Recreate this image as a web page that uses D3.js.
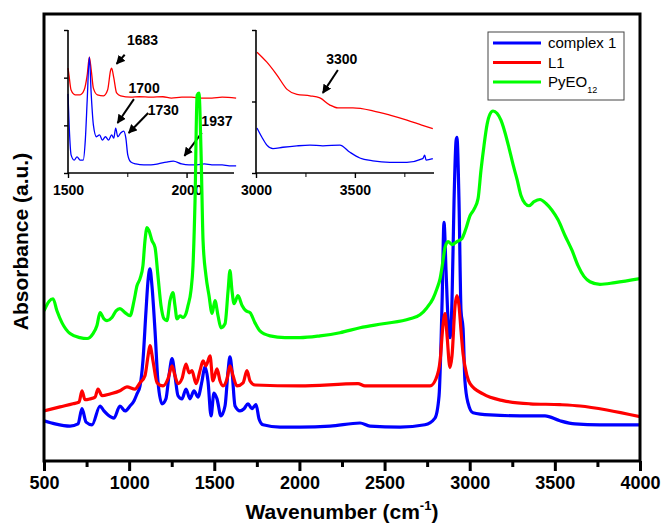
<!DOCTYPE html>
<html>
<head>
<meta charset="utf-8">
<script src="https://cdn.jsdelivr.net/npm/d3@7"></script>
<style>
  body { margin: 0; background: #fff; }
  svg { display: block; font-family: Arial, "Liberation Sans", sans-serif; }
</style>
</head>
<body>
<div id="chart"></div>
<script>
// FTIR spectra, wavenumber (cm-1) vs absorbance (a.u.)
const seriesNames = ["complex 1", "L1", "PyEO12"];
const seriesColors = ["#0000ff", "#ff0000", "#00ff00"];

const complex1 = [
  [500,0.090],[565,0.083],[653,0.078],[700,0.083],[723,0.117],[747,0.087],[782,0.081],
  [829,0.123],[852,0.112],[876,0.103],[911,0.096],[946,0.123],[976,0.112],[1005,0.123],
  [1029,0.135],[1046,0.150],[1064,0.168],[1081,0.224],[1099,0.336],[1111,0.404],[1122,0.430],
  [1134,0.392],[1152,0.291],[1169,0.179],[1193,0.128],[1216,0.139],[1234,0.191],[1252,0.229],
  [1269,0.191],[1287,0.146],[1310,0.139],[1334,0.161],[1357,0.139],[1381,0.157],[1404,0.143],
  [1428,0.179],[1445,0.211],[1463,0.179],[1481,0.101],[1498,0.152],[1516,0.139],[1539,0.101],
  [1563,0.123],[1581,0.202],[1592,0.233],[1604,0.202],[1622,0.123],[1651,0.112],[1675,0.117],
  [1698,0.128],[1721,0.117],[1745,0.126],[1763,0.094],[1786,0.081],[1886,0.076],[2003,0.076],
  [2180,0.078],[2356,0.085],[2414,0.078],[2591,0.076],[2737,0.081],[2796,0.096],[2820,0.146],
  [2838,0.359],[2849,0.534],[2861,0.426],[2873,0.314],[2884,0.276],[2896,0.359],[2908,0.583],
  [2920,0.717],[2925,0.724],[2937,0.583],[2949,0.336],[2961,0.296],[2972,0.179],[2990,0.130],
  [3019,0.108],[3119,0.103],[3295,0.101],[3442,0.101],[3530,0.090],[3618,0.083],[3765,0.081],
  [4000,0.081]
];

const ligandL1 = [
  [500,0.112],[594,0.121],[670,0.128],[706,0.132],[723,0.157],[741,0.137],[770,0.139],
  [800,0.143],[817,0.161],[841,0.146],[888,0.150],[946,0.157],[987,0.166],[1034,0.161],
  [1064,0.175],[1093,0.191],[1111,0.235],[1122,0.258],[1140,0.224],[1164,0.175],[1199,0.168],
  [1228,0.184],[1252,0.213],[1269,0.191],[1287,0.173],[1310,0.184],[1334,0.217],[1352,0.197],
  [1369,0.202],[1393,0.173],[1416,0.202],[1434,0.224],[1451,0.213],[1475,0.235],[1492,0.179],
  [1516,0.206],[1534,0.179],[1551,0.168],[1575,0.184],[1592,0.213],[1610,0.191],[1633,0.168],
  [1669,0.175],[1692,0.202],[1710,0.179],[1739,0.170],[2003,0.168],[2344,0.173],[2385,0.168],
  [2767,0.168],[2802,0.184],[2826,0.224],[2843,0.303],[2855,0.330],[2867,0.280],[2884,0.209],
  [2896,0.235],[2914,0.348],[2925,0.370],[2937,0.348],[2949,0.291],[2961,0.240],[2984,0.191],
  [3002,0.173],[3078,0.150],[3195,0.135],[3354,0.128],[3530,0.126],[3648,0.123],[3806,0.114],
  [4000,0.099]
];

const pyeo12 = [
  [500,0.336],[529,0.357],[553,0.363],[576,0.336],[606,0.309],[653,0.285],[711,0.276],
  [753,0.274],[788,0.285],[811,0.303],[829,0.332],[852,0.318],[870,0.314],[899,0.321],
  [923,0.336],[946,0.341],[976,0.332],[1005,0.325],[1029,0.359],[1046,0.392],[1064,0.408],
  [1081,0.437],[1093,0.493],[1105,0.522],[1116,0.516],[1134,0.493],[1152,0.478],[1169,0.415],
  [1187,0.348],[1205,0.318],[1222,0.314],[1240,0.359],[1257,0.377],[1269,0.348],[1281,0.318],
  [1299,0.325],[1316,0.321],[1334,0.330],[1346,0.348],[1363,0.381],[1375,0.437],[1387,0.583],
  [1399,0.818],[1410,0.823],[1422,0.695],[1434,0.493],[1451,0.415],[1469,0.370],[1487,0.330],
  [1504,0.359],[1522,0.325],[1539,0.298],[1563,0.307],[1581,0.381],[1592,0.426],[1604,0.381],
  [1616,0.352],[1639,0.370],[1663,0.348],[1686,0.336],[1710,0.332],[1739,0.309],[1768,0.291],
  [1827,0.280],[1915,0.276],[2003,0.276],[2121,0.280],[2238,0.287],[2356,0.298],[2491,0.307],
  [2649,0.318],[2708,0.327],[2749,0.343],[2784,0.363],[2808,0.386],[2826,0.408],[2843,0.448],
  [2855,0.478],[2873,0.491],[2896,0.484],[2925,0.491],[2955,0.498],[2978,0.520],[3002,0.549],
  [3025,0.563],[3049,0.587],[3066,0.650],[3084,0.706],[3102,0.753],[3119,0.776],[3137,0.783],
  [3160,0.778],[3184,0.762],[3207,0.735],[3231,0.700],[3254,0.664],[3278,0.630],[3301,0.594],
  [3325,0.576],[3348,0.571],[3378,0.580],[3413,0.585],[3448,0.576],[3483,0.561],[3518,0.540],
  [3560,0.504],[3601,0.471],[3636,0.437],[3671,0.413],[3706,0.401],[3765,0.395],[3853,0.399],
  [4000,0.408]
];

// inset 1: 1500-2200 cm-1 (complex 1 and L1)
const inset1Complex = [
  [1500,1.66],[1504,1.11],[1513,0.38],[1526,0.27],[1538,0.34],[1551,0.27],[1564,0.27],
  [1573,0.69],[1581,1.53],[1590,2.43],[1598,1.64],[1607,1.01],[1620,0.76],[1633,0.80],
  [1645,0.69],[1658,0.76],[1671,0.69],[1684,0.80],[1693,0.73],[1701,0.94],[1710,0.76],
  [1722,0.84],[1735,0.88],[1744,0.73],[1752,0.38],[1765,0.23],[1786,0.19],[1820,0.17],
  [1850,0.17],[1880,0.19],[1915,0.23],[1944,0.25],[1979,0.19],[2010,0.17],[2043,0.17],
  [2075,0.19],[2107,0.17],[2150,0.17],[2180,0.15],[2209,0.15]
];
const inset1L1 = [
  [1500,2.20],[1504,2.06],[1513,1.74],[1530,1.64],[1551,1.64],[1568,1.74],[1581,2.06],
  [1590,2.43],[1598,2.16],[1607,1.78],[1624,1.64],[1650,1.62],[1667,1.74],[1680,2.16],
  [1684,2.20],[1693,2.00],[1705,1.68],[1722,1.62],[1765,1.59],[1800,1.60],[1850,1.59],
  [1900,1.60],[1936,1.57],[1980,1.59],[2021,1.59],[2060,1.57],[2107,1.57],[2150,1.59],
  [2209,1.57]
];

// inset 2: 3000-3900 cm-1
const inset2Complex = [
  [3005,0.63],[3030,0.50],[3055,0.39],[3086,0.34],[3136,0.36],[3207,0.38],[3273,0.39],
  [3338,0.38],[3424,0.39],[3475,0.29],[3525,0.21],[3591,0.17],[3677,0.15],[3763,0.15],
  [3843,0.20],[3853,0.25],[3860,0.18],[3894,0.20]
];
const inset2L1 = [
  [3005,1.69],[3055,1.55],[3106,1.37],[3157,1.17],[3207,1.10],[3273,1.08],[3323,1.05],
  [3374,0.95],[3414,0.91],[3490,0.91],[3591,0.87],[3677,0.81],[3763,0.74],[3838,0.67],
  [3894,0.62]
];

const mainTicks = [500, 1000, 1500, 2000, 2500, 3000, 3500, 4000];
const mainMinor = [750, 1250, 1750, 2250, 2750, 3250, 3750];
const inset1Ticks = [1500, 2000];
const inset1Minor = [1750];
const inset2Ticks = [3000, 3500];
const inset2Minor = [3250, 3750];

// peak annotations: label, tip, tail, text position (inset data coords)
const inset1Notes = [
  { label: "1683", tip: [1705, 2.29], tail: [1739, 2.48], text: [1814, 2.69] },
  { label: "1700", tip: [1709, 1.05], tail: [1778, 1.55], text: [1821, 1.68] },
  { label: "1730", tip: [1756, 0.84], tail: [1838, 1.26], text: [1902, 1.22] },
  { label: "1937", tip: [1991, 0.36], tail: [2064, 0.84], text: [2128, 0.99] }
];
const inset2Notes = [
  { label: "3300", tip: [3338, 1.12], tail: [3414, 1.44], text: [3434, 1.52] }
];

const width = 664, height = 524;
const marginTop = 14, marginRight = 24, marginBottom = 63, marginLeft = 44;

const svg = d3.select("#chart").append("svg")
  .attr("width", width)
  .attr("height", height);

const x = d3.scaleLinear().domain([500, 4000]).range([marginLeft, width - marginRight]);
const y = d3.scaleLinear().domain([0, 1]).range([height - marginBottom, marginTop]);

const defs = svg.append("defs");
defs.append("clipPath").attr("id", "plotClip")
  .append("rect")
  .attr("x", marginLeft).attr("y", marginTop)
  .attr("width", width - marginLeft - marginRight)
  .attr("height", height - marginTop - marginBottom);
defs.append("marker")
  .attr("id", "arrow")
  .attr("viewBox", "0 0 10 10")
  .attr("refX", 9).attr("refY", 5)
  .attr("markerWidth", 4.5).attr("markerHeight", 4.5)
  .attr("markerUnits", "strokeWidth")
  .attr("orient", "auto")
  .append("path")
  .attr("d", "M0,0L10,5L0,10z")
  .attr("fill", "#000");

// ---- insets (drawn first, main curves pass over them)
function drawInset(domain, rangeX, yDomain, yTicks, ticks, minor, series, notes) {
  const ix = d3.scaleLinear().domain(domain).range(rangeX);
  const iy = d3.scaleLinear().domain(yDomain).range([173, 30]);
  const g = svg.append("g");

  const line = d3.line().x(d => ix(d[0])).y(d => iy(d[1])).curve(d3.curveMonotoneX);
  series.forEach(s => {
    g.append("path")
      .datum(s.data)
      .attr("fill", "none")
      .attr("stroke", s.color)
      .attr("stroke-width", 1.3)
      .attr("d", line);
  });

  const gx = g.append("g")
    .attr("transform", `translate(0,${iy(yDomain[0])})`)
    .call(d3.axisBottom(ix).tickValues(ticks).tickSize(5).tickPadding(7).tickFormat(d3.format("d")));
  g.append("g")
    .attr("transform", `translate(0,${iy(yDomain[0])})`)
    .call(d3.axisBottom(ix).tickValues(minor).tickSize(4).tickFormat(""))
    .call(a => a.select(".domain").remove());
  const gy = g.append("g")
    .attr("transform", `translate(${rangeX[0]},0)`)
    .call(d3.axisLeft(iy).tickValues(yTicks).tickSize(4).tickFormat(""));
  [gx, gy].forEach(a => {
    a.select(".domain").attr("stroke-width", 1.6).attr("d",
      a === gx ? `M${rangeX[0]},0H${rangeX[1]}` : `M0,${iy(yDomain[1])}V${iy(yDomain[0])}`);
    a.selectAll(".tick line").attr("stroke-width", 1.4);
  });
  gx.selectAll("text")
    .attr("font-size", 14).attr("font-weight", "bold").attr("fill", "#000");

  notes.forEach(n => {
    g.append("line")
      .attr("x1", ix(n.tail[0])).attr("y1", iy(n.tail[1]))
      .attr("x2", ix(n.tip[0])).attr("y2", iy(n.tip[1]))
      .attr("stroke", "#000").attr("stroke-width", 2)
      .attr("marker-end", "url(#arrow)");
    g.append("text")
      .attr("x", ix(n.text[0])).attr("y", iy(n.text[1]))
      .attr("text-anchor", "middle")
      .attr("font-size", 14).attr("font-weight", "bold")
      .text(n.label);
  });
}

drawInset([1500, 2200], [68, 234], [0, 3], [0, 1, 2, 3], inset1Ticks, inset1Minor,
  [{ data: inset1L1, color: seriesColors[1] }, { data: inset1Complex, color: seriesColors[0] }],
  inset1Notes);
drawInset([3000, 3900], [256, 434], [0, 2], [0, 1, 2], inset2Ticks, inset2Minor,
  [{ data: inset2L1, color: seriesColors[1] }, { data: inset2Complex, color: seriesColors[0] }],
  inset2Notes);

// ---- main spectra
const mainLine = d3.line().x(d => x(d[0])).y(d => y(d[1])).curve(d3.curveMonotoneX);
const plotG = svg.append("g").attr("clip-path", "url(#plotClip)");
[complex1, ligandL1, pyeo12].forEach((data, i) => {
  plotG.append("path")
    .datum(data)
    .attr("fill", "none")
    .attr("stroke", seriesColors[i])
    .attr("stroke-width", 3.2)
    .attr("stroke-linejoin", "round")
    .attr("d", mainLine);
});

// frame
svg.append("rect")
  .attr("x", marginLeft).attr("y", marginTop)
  .attr("width", width - marginLeft - marginRight)
  .attr("height", height - marginTop - marginBottom)
  .attr("fill", "none")
  .attr("stroke", "#000")
  .attr("stroke-width", 3);

// x axis
const xAxisG = svg.append("g")
  .attr("transform", `translate(0,${height - marginBottom})`)
  .call(d3.axisBottom(x).tickValues(mainTicks).tickSize(10).tickPadding(5).tickFormat(d3.format("d")));
xAxisG.select(".domain").remove();
xAxisG.selectAll(".tick line").attr("stroke-width", 3);
xAxisG.selectAll("text")
  .attr("font-size", 18).attr("font-weight", "bold").attr("fill", "#000");
const minorG = svg.append("g")
  .attr("transform", `translate(0,${height - marginBottom})`)
  .call(d3.axisBottom(x).tickValues(mainMinor).tickSize(6).tickFormat(""));
minorG.select(".domain").remove();
minorG.selectAll(".tick line").attr("stroke-width", 3);

// axis titles
const xTitle = svg.append("text")
  .attr("x", (marginLeft + width - marginRight) / 2)
  .attr("y", 519)
  .attr("text-anchor", "middle")
  .attr("font-size", 21).attr("font-weight", "bold");
xTitle.append("tspan").text("Wavenumber (cm");
xTitle.append("tspan").attr("font-size", 13).attr("dy", -9).text("-1");
xTitle.append("tspan").attr("dy", 9).text(")");

svg.append("text")
  .attr("transform", `translate(28,${(marginTop + height - marginBottom) / 2 + 4}) rotate(-90)`)
  .attr("text-anchor", "middle")
  .attr("font-size", 21).attr("font-weight", "bold")
  .text("Absorbance (a.u.)");

// legend
const legend = svg.append("g").attr("transform", "translate(488,32)");
legend.append("rect")
  .attr("width", 136).attr("height", 68)
  .attr("fill", "#fff").attr("stroke", "#444").attr("stroke-width", 1);
seriesNames.forEach((name, i) => {
  const ly = 11 + i * 19.5;
  legend.append("line")
    .attr("x1", 5).attr("x2", 53).attr("y1", ly).attr("y2", ly)
    .attr("stroke", seriesColors[i]).attr("stroke-width", 3.2);
  const t = legend.append("text")
    .attr("x", 60).attr("y", ly + 5)
    .attr("font-size", 15);
  if (name === "PyEO12") {
    t.append("tspan").text("PyEO");
    t.append("tspan").attr("font-size", 9).attr("dy", 6).text("12");
  } else {
    t.text(name);
  }
});
</script>
</body>
</html>
